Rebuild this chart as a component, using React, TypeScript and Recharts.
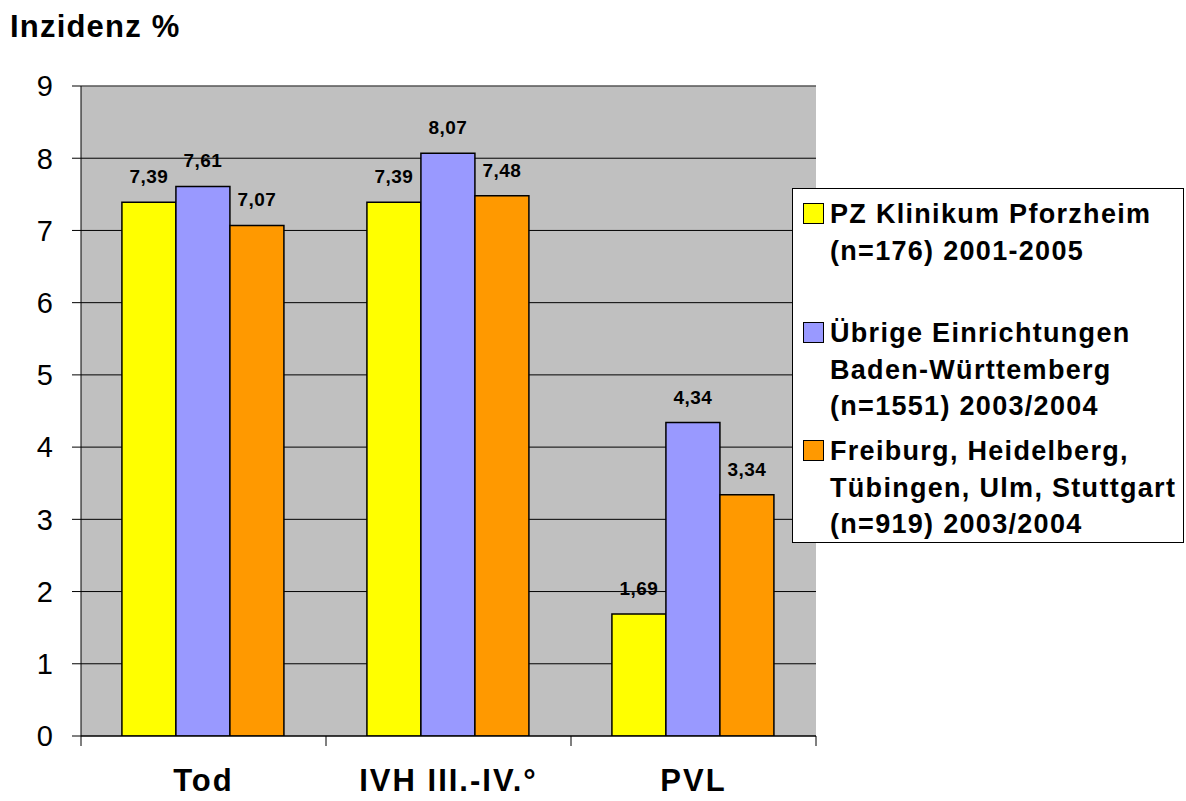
import React from 'react';
import { BarChart, Bar, XAxis, YAxis, CartesianGrid, LabelList, Legend, ReferenceLine } from 'recharts';

const categories = ['Tod', 'IVH III.-IV.°', 'PVL'];
const pforzheim = [7.39, 7.39, 1.69];
const uebrige = [7.61, 8.07, 4.34];
const zentren = [7.07, 7.48, 3.34];
const yTicks = [0, 1, 2, 3, 4, 5, 6, 7, 8, 9];

const seriesKeys = ['pz', 'bw', 'uni'];
const seriesColors = ['#FFFF00', '#9999FF', '#FF9900'];
const seriesLines = [
  ['PZ Klinikum Pforzheim', '(n=176) 2001-2005'],
  ['Übrige Einrichtungen', 'Baden-Württemberg', '(n=1551) 2003/2004'],
  ['Freiburg, Heidelberg,', 'Tübingen, Ulm, Stuttgart', '(n=919) 2003/2004'],
];

const data = categories.map((cat, i) => ({
  cat,
  pz: pforzheim[i],
  bw: uebrige[i],
  uni: zentren[i],
}));

const FONT = '"Liberation Sans", Arial, sans-serif';
const fmt = (v: any) => String(v).replace('.', ',');

// tick lines sit between categories, like the Excel original
const CategoryTick = (props: any) => {
  const { x, y, payload } = props;
  const half = payload.offset || 122.5;
  const last = payload.index === categories.length - 1;
  return (
    <g>
      <line x1={x - half} y1={y} x2={x - half} y2={y + 10} stroke="#000" />
      {last && <line x1={x + half} y1={y} x2={x + half} y2={y + 10} stroke="#000" />}
      <text
        x={x}
        y={y + 55}
        textAnchor="middle"
        fill="#000"
        fontFamily={FONT}
        fontWeight="bold"
        fontSize={31}
        letterSpacing={2}
      >
        {payload.value}
      </text>
    </g>
  );
};

const entryTops = [7, 126, 244];

const LegendBox = () => (
  <div
    style={{
      position: 'relative',
      width: 390,
      height: 353,
      background: '#fff',
      border: '1px solid #000',
      fontFamily: FONT,
      fontWeight: 'bold',
      fontSize: 27,
      letterSpacing: 1.3,
      color: '#000',
    }}
  >
    {seriesLines.map((lines, i) => (
      <div key={i} style={{ position: 'absolute', left: 0, top: entryTops[i], width: 390 }}>
        <div
          style={{
            position: 'absolute',
            left: 10,
            top: 7,
            width: 19,
            height: 19,
            background: seriesColors[i],
            border: '1.5px solid #000',
          }}
        />
        {lines.map((t, j) => (
          <div
            key={j}
            style={{ position: 'absolute', left: 37, top: j * 36.7, lineHeight: '36.7px', whiteSpace: 'nowrap' }}
          >
            {t}
          </div>
        ))}
      </div>
    ))}
  </div>
);

export default function App() {
  return (
    <div style={{ position: 'absolute', left: 0, top: 0, width: 1186, height: 801, background: '#fff' }}>
      <div
        style={{
          position: 'absolute',
          left: 10,
          top: 11,
          fontFamily: FONT,
          fontWeight: 'bold',
          fontSize: 31,
          lineHeight: '31px',
          letterSpacing: 1.2,
          color: '#000',
          zIndex: 2,
        }}
      >
        Inzidenz %
      </div>
      <BarChart
        width={1186}
        height={801}
        data={data}
        margin={{ top: 86, right: 370, bottom: 0, left: 0 }}
        barCategoryGap="16.7%"
        barGap={0}
      >
        <CartesianGrid vertical={false} stroke="#000" fill="#C0C0C0" fillOpacity={1} />
        <ReferenceLine y={9} stroke="#808080" />
        <XAxis
          dataKey="cat"
          height={65}
          axisLine={{ stroke: '#000' }}
          tickLine={false}
          tickSize={0}
          tickMargin={0}
          tick={<CategoryTick />}
          interval={0}
        />
        <YAxis
          width={81}
          domain={[0, 9]}
          ticks={yTicks}
          allowDataOverflow
          axisLine={{ stroke: '#000' }}
          tickLine={{ stroke: '#000' }}
          tickSize={9}
          tickMargin={19}
          tick={{ fill: '#000', fontSize: 29, fontFamily: FONT }}
        />
        <YAxis
          yAxisId="frame"
          orientation="right"
          width={0}
          domain={[0, 9]}
          tick={false}
          tickLine={false}
          axisLine={{ stroke: '#808080' }}
        />
        <Legend
          layout="horizontal"
          verticalAlign="middle"
          align="center"
          content={() => <LegendBox />}
          wrapperStyle={{ top: 188, left: 792, width: 392, height: 355 }}
        />
        {seriesKeys.map((k, i) => (
          <Bar
            key={k}
            dataKey={k}
            name={seriesLines[i].join(' ')}
            fill={seriesColors[i]}
            stroke="#000"
            strokeWidth={1.5}
            isAnimationActive={false}
          >
            <LabelList
              dataKey={k}
              position="top"
              offset={19}
              formatter={fmt}
              fill="#000"
              fontSize={19}
              fontWeight="bold"
              fontFamily={FONT}
              letterSpacing={0.4}
            />
          </Bar>
        ))}
      </BarChart>
    </div>
  );
}
